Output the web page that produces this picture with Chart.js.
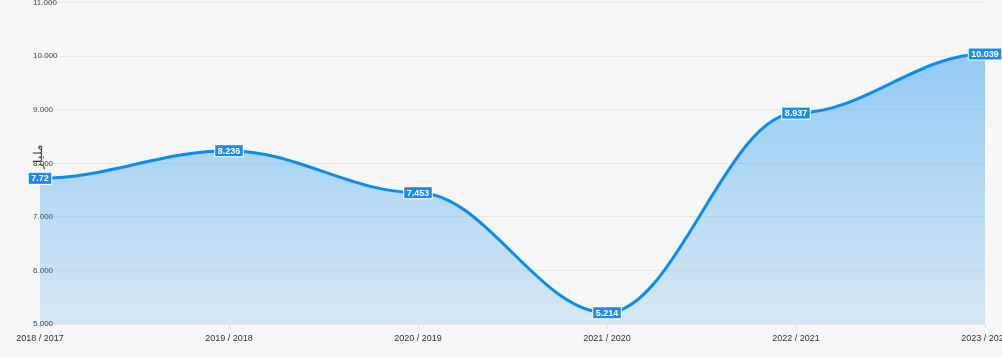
<!DOCTYPE html>
<html>
<head>
<meta charset="utf-8">
<script src="https://cdn.jsdelivr.net/npm/chart.js@4/dist/chart.umd.min.js"></script>
<style>
html,body{margin:0;padding:0;background:#f7f7f7;}
#wrap{width:1002px;height:357px;position:relative;}
</style>
</head>
<body>
<div id="wrap"><canvas id="c" width="1002" height="357"></canvas></div>
<script>
const categories = ["2018 / 2017","2019 / 2018","2020 / 2019","2021 / 2020","2022 / 2021","2023 / 2022"];
const values = [7.72, 8.236, 7.453, 5.214, 8.937, 10.039];
const valueLabels = ["7.72","8.236","7.453","5.214","8.937","10.039"];
const yTitle = "مليار";
const yMin = 5, yMax = 11;

const FONT = "'Liberation Sans', Arial, sans-serif";

// horizontal-tangent smoothing (like the reference spline)
const smoothPlugin = {
  id: 'hSmooth',
  afterDatasetsUpdate(chart) {
    const meta = chart.getDatasetMeta(0);
    const pts = meta.data;
    const k = 0.36;
    for (let i = 0; i < pts.length; i++) {
      const p = pts[i];
      const prev = pts[i - 1], next = pts[i + 1];
      if (prev) { p.cp1x = p.x - k * (p.x - prev.x); p.cp1y = p.y; }
      else { p.cp1x = p.x; p.cp1y = p.y; }
      if (next) { p.cp2x = p.x + k * (next.x - p.x); p.cp2y = p.y; }
      else { p.cp2x = p.x; p.cp2y = p.y; }
    }
    if (meta.dataset) meta.dataset._pointsUpdated = true;
  }
};

const labelPlugin = {
  id: 'valLabels',
  afterDatasetsDraw(chart) {
    const ctx = chart.ctx;
    const meta = chart.getDatasetMeta(0);
    ctx.save();
    ctx.font = "bold 9px " + FONT;
    ctx.textAlign = 'center';
    ctx.textBaseline = 'middle';
    meta.data.forEach((pt, i) => {
      const t = valueLabels[i];
      const w = ctx.measureText(t).width + 5;
      const h = 11;
      const x = pt.x, y = pt.y;
      ctx.fillStyle = '#ffffff';
      ctx.fillRect(x - w/2 - 1, y - h/2 - 1, w + 2, h + 2);
      ctx.fillStyle = '#1a8cf0';
      ctx.fillRect(x - w/2, y - h/2, w, h);
      ctx.fillStyle = '#ffffff';
      ctx.fillText(t, x, y + 0.5);
    });
    ctx.restore();
  }
};

const titlePlugin = {
  id: 'yTitle',
  afterDraw(chart) {
    const ctx = chart.ctx;
    ctx.save();
    ctx.translate(39, 157);
    ctx.rotate(-Math.PI/2);
    ctx.font = "12px " + FONT;
    ctx.fillStyle = '#333';
    ctx.textAlign = 'center';
    ctx.textBaseline = 'middle';
    ctx.fillText(yTitle, 0, 0);
    ctx.restore();
  }
};

new Chart(document.getElementById('c'), {
  type: 'line',
  data: {
    labels: categories,
    datasets: [{
      data: values,
      borderColor: '#0a8cf0',
      borderWidth: 3,
      pointRadius: 0,
      tension: 0.4,
      fill: 'start',
      backgroundColor: (ctx) => {
        const ca = ctx.chart.chartArea;
        if (!ca) return 'rgba(10,140,240,0.3)';
        const g = ctx.chart.ctx.createLinearGradient(0, ca.top, 0, ca.bottom);
        g.addColorStop(0, 'rgba(10,140,240,0.47)');
        g.addColorStop(1, 'rgba(10,140,240,0.14)');
        return g;
      }
    }]
  },
  options: {
    responsive: false,
    animation: false,
    layout: { padding: { left: 40, right: 17, top: 2, bottom: 8 } },
    plugins: { legend: { display: false }, tooltip: { enabled: false } },
    scales: {
      x: {
        offset: false,
        afterFit: (s) => { s.paddingLeft = 0; s.paddingRight = 0; },
        grid: { drawOnChartArea: false, tickLength: 4, color: '#e0e0e0' },
        border: { display: true, color: '#e6e6e6' },
        ticks: { color: '#333', font: { size: 9, family: FONT }, maxRotation: 0, autoSkip: false, padding: 5 }
      },
      y: {
        min: yMin, max: yMax,
        grid: { color: '#e8e8e8', drawTicks: false },
        border: { display: false },
        ticks: {
          mirror: true, padding: -2.33, stepSize: 1,
          color: '#444', font: { size: 8, family: FONT },
          callback: (v) => Number(v).toFixed(3)
        }
      }
    }
  },
  plugins: [smoothPlugin, labelPlugin, titlePlugin]
});
</script>
</body>
</html>
